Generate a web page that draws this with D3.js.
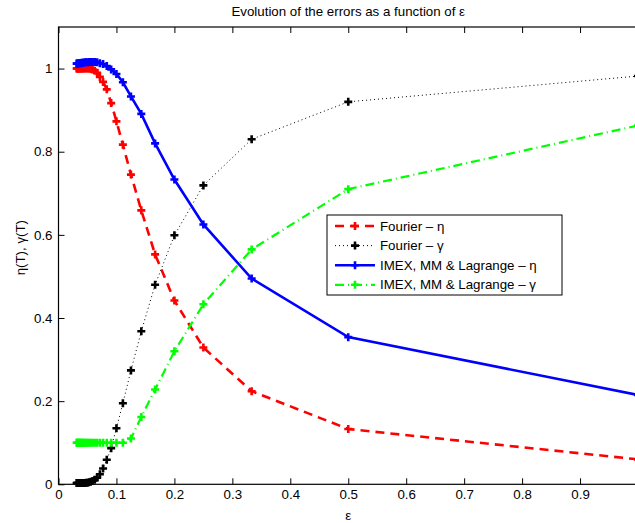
<!DOCTYPE html>
<html>
<head>
<meta charset="utf-8">
<script src="https://cdn.jsdelivr.net/npm/d3@7"></script>
<style>
  html, body { margin: 0; padding: 0; background: #fff; }
  svg { display: block; }
  text { font-family: "Liberation Sans", Arial, Helvetica, sans-serif; fill: #000; }
</style>
</head>
<body>
<svg id="chart" width="635" height="523"></svg>
<script>
// ---- data ----
const epsilon = [1, 0.5, 0.3333, 0.25, 0.2, 0.1667, 0.1429, 0.125, 0.1111, 0.1,
  0.0909, 0.0833, 0.0769, 0.0714, 0.0667, 0.0625, 0.0588, 0.0556, 0.0526, 0.05,
  0.0476, 0.0455, 0.0435, 0.0417, 0.04, 0.0385, 0.037, 0.0357, 0.0345, 0.0333,
  0.0323, 0.0313];

const fourierEta = [0.06, 0.133, 0.224, 0.329, 0.442, 0.553, 0.659, 0.745, 0.817, 0.873,
  0.917, 0.95, 0.968, 0.98, 0.99, 0.995, 0.998, 0.999, 1.0, 1.0,
  1.0, 1.0, 1.0, 1.0, 1.0, 1.0, 1.0, 1.0, 1.0, 1.0,
  1.0, 1.0];

const fourierGamma = [0.982, 0.92, 0.83, 0.719, 0.599, 0.48, 0.368, 0.274, 0.195, 0.135,
  0.087, 0.059, 0.038, 0.024, 0.016, 0.011, 0.008, 0.006, 0.005, 0.004,
  0.004, 0.003, 0.003, 0.003, 0.003, 0.003, 0.003, 0.003, 0.003, 0.003,
  0.003, 0.003];

const imexEta = [0.215, 0.354, 0.495, 0.625, 0.733, 0.82, 0.891, 0.933, 0.967, 0.987,
  0.998, 1.006, 1.011, 1.013, 1.015, 1.016, 1.016, 1.016, 1.016, 1.015,
  1.015, 1.015, 1.014, 1.014, 1.014, 1.013, 1.013, 1.013, 1.012, 1.012,
  1.012, 1.012];

const imexGamma = [0.863, 0.71, 0.565, 0.433, 0.32, 0.228, 0.162, 0.11, 0.1, 0.1,
  0.1, 0.1, 0.1, 0.1, 0.1, 0.1, 0.1, 0.1, 0.1, 0.1,
  0.1, 0.1, 0.1, 0.1, 0.1, 0.1, 0.1, 0.1, 0.1, 0.1,
  0.1, 0.1];

const xTicks = [0, 0.1, 0.2, 0.3, 0.4, 0.5, 0.6, 0.7, 0.8, 0.9];
const yTicks = [0, 0.2, 0.4, 0.6, 0.8, 1];

const seriesNames = ["Fourier \u2013 \u03b7", "Fourier \u2013 \u03b3",
  "IMEX, MM & Lagrange \u2013 \u03b7", "IMEX, MM & Lagrange \u2013 \u03b3"];
const seriesColors = ["#ff0000", "#000000", "#0000ff", "#00ff00"];
const seriesDash = ["9,6", "1,3", null, "9,4,1,4"];
const seriesWidth = [2.6, 1, 2.6, 2.2];
const seriesValues = [fourierEta, fourierGamma, imexEta, imexGamma];

const titleText = "Evolution of the errors as a function of \u03b5";
const xLabel = "\u03b5";
const yLabel = "\u03b7(T), \u03b3(T)";

// ---- layout ----
const svg = d3.select("#chart");
const mLeft = 58.5, mRight = 638, mTop = 27, mBottom = 484.3;
const x = d3.scaleLinear().domain([0, 1]).range([mLeft, mRight]);
const y = d3.scaleLinear().domain([0, 1.1]).range([mBottom, mTop]);

svg.append("rect").attr("width", 635).attr("height", 523).attr("fill", "#fff");

svg.append("defs").append("clipPath").attr("id", "clip")
  .append("rect").attr("x", mLeft).attr("y", mTop)
  .attr("width", 700 - mLeft).attr("height", mBottom - mTop);

// axes box
svg.append("rect").attr("x", mLeft).attr("y", mTop)
  .attr("width", 700 - mLeft).attr("height", mBottom - mTop)
  .attr("fill", "none").attr("stroke", "#000").attr("stroke-width", 1.2);

// x axis (bottom, inward ticks)
const xAxisB = svg.append("g").attr("transform", `translate(0,${mBottom})`)
  .call(d3.axisBottom(x).tickValues(xTicks).tickSize(-6).tickPadding(5)
    .tickFormat(d => d === 0 ? "0" : d3.format(".1f")(d)));
xAxisB.select(".domain").remove();
xAxisB.selectAll("line").attr("stroke", "#000").attr("stroke-width", 1);
xAxisB.selectAll("text").attr("font-size", "13.3px").attr("fill", "#000");

// x axis top ticks
const xAxisT = svg.append("g").attr("transform", `translate(0,${mTop})`)
  .call(d3.axisTop(x).tickValues(xTicks).tickSize(-6).tickFormat(""));
xAxisT.select(".domain").remove();
xAxisT.selectAll("line").attr("stroke", "#000").attr("stroke-width", 1);

// y axis
const yAxis = svg.append("g").attr("transform", `translate(${mLeft},0)`)
  .call(d3.axisLeft(y).tickValues(yTicks).tickSize(-6).tickPadding(6)
    .tickFormat(d => d === 0 || d === 1 ? String(d) : d3.format(".1f")(d)));
yAxis.select(".domain").remove();
yAxis.selectAll("line").attr("stroke", "#000").attr("stroke-width", 1);
yAxis.selectAll("text").attr("font-size", "13.3px").attr("fill", "#000");

// series
const plot = svg.append("g").attr("clip-path", "url(#clip)");
const line = d3.line().x((d, i) => x(epsilon[i])).y(d => y(d));
const plusPath = s => `M${-s},0H${s}M0,${-s}V${s}`;

seriesValues.forEach((vals, si) => {
  plot.append("path").datum(vals)
    .attr("d", line)
    .attr("fill", "none")
    .attr("stroke", seriesColors[si])
    .attr("stroke-width", seriesWidth[si])
    .attr("stroke-dasharray", seriesDash[si]);
});
seriesValues.forEach((vals, si) => {
  svg.append("g").selectAll("path").data(vals).join("path")
    .attr("transform", (d, i) => `translate(${x(epsilon[i])},${y(d)})`)
    .attr("d", plusPath(4))
    .attr("stroke", seriesColors[si])
    .attr("stroke-width", 2.6)
    .attr("fill", "none");
});

// title & labels
svg.append("text").attr("x", (mLeft + mRight) / 2).attr("y", 16)
  .attr("text-anchor", "middle").attr("font-size", "13.3px").text(titleText);
svg.append("text").attr("x", (mLeft + mRight) / 2).attr("y", 520)
  .attr("text-anchor", "middle").attr("font-size", "13.3px").text(xLabel);
svg.append("text").attr("transform", `translate(25,${(mTop + mBottom) / 2 - 8}) rotate(-90)`)
  .attr("text-anchor", "middle").attr("font-size", "13.3px").text(yLabel);

// legend
const lg = svg.append("g").attr("transform", "translate(327,215)");
lg.append("rect").attr("width", 235).attr("height", 80)
  .attr("fill", "#fff").attr("stroke", "#000").attr("stroke-width", 1);
seriesNames.forEach((name, si) => {
  const ry = 11 + si * 19.6;
  lg.append("line").attr("x1", 8).attr("x2", 48).attr("y1", ry).attr("y2", ry)
    .attr("stroke", seriesColors[si]).attr("stroke-width", seriesWidth[si])
    .attr("stroke-dasharray", seriesDash[si]);
  lg.append("path").attr("transform", `translate(28,${ry})`).attr("d", plusPath(4))
    .attr("stroke", seriesColors[si]).attr("stroke-width", 2.6);
  lg.append("text").attr("x", 53).attr("y", ry).attr("dy", "0.35em")
    .attr("font-size", "13.3px").text(name);
});
</script>
</body>
</html>
